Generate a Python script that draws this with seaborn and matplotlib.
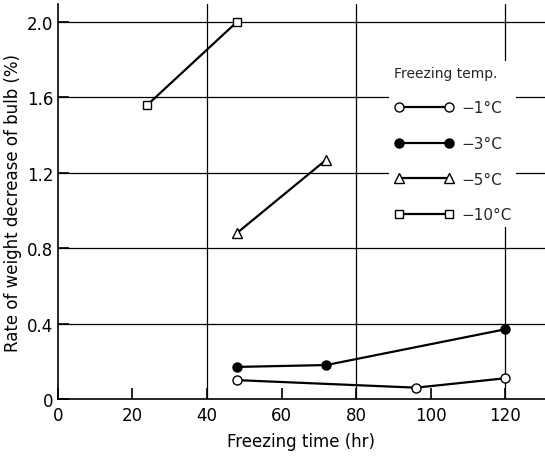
import matplotlib
matplotlib.use("Agg")
import matplotlib.pyplot as plt
import seaborn as sns
import pandas as pd

# Data
t_m1 = [48, 96, 120]
v_m1 = [0.10, 0.06, 0.11]
t_m3 = [48, 72, 120]
v_m3 = [0.17, 0.18, 0.37]
t_m5 = [48, 72]
v_m5 = [0.88, 1.27]
t_m10 = [24, 48]
v_m10 = [1.56, 2.00]
labels = ["\u22121\u00b0C", "\u22123\u00b0C", "\u22125\u00b0C", "\u221210\u00b0C"]
x_ticks = [0, 20, 40, 60, 80, 100, 120]
y_ticks = [0, 0.4, 0.8, 1.2, 1.6, 2.0]
y_ticklabels = ["0", "0.4", "0.8", "1.2", "1.6", "2.0"]

sns.set_theme(style="white")
plt.rcParams["font.family"] = ["DejaVu Sans"]

fig = plt.figure(figsize=(5.45, 4.64), dpi=100)
ax = fig.add_axes([0.106, 0.138, 0.894, 0.851])

# grid
for yv in y_ticks[1:]:
    ax.axhline(yv, color="black", lw=0.9, zorder=1)
for xv in [40, 80, 120]:
    ax.axvline(xv, color="black", lw=0.9, zorder=1)

series = [
    (t_m1, v_m1, labels[0], "o", "white", 6.5),
    (t_m3, v_m3, labels[1], "o", "black", 6.5),
    (t_m5, v_m5, labels[2], "^", "white", 7),
    (t_m10, v_m10, labels[3], "s", "white", 6),
]
for t, v, lab, mk, fc, ms in series:
    df = pd.DataFrame({"t": t, "v": v})
    sns.lineplot(data=df, x="t", y="v", ax=ax, color="black", lw=1.6,
                 marker=mk, markersize=ms, markerfacecolor=fc,
                 markeredgecolor="black", markeredgewidth=1.0,
                 label=lab, zorder=3)

ax.set_xlim(0, 130.6)
ax.set_ylim(0, 2.095)
ax.set_xticks(x_ticks)
ax.set_yticks(y_ticks)
ax.set_yticklabels(y_ticklabels)
ax.tick_params(axis="both", direction="in", length=8, width=1.2,
               labelsize=12, colors="black", pad=3, bottom=True, left=True)
ax.tick_params(axis="x", pad=5)
for s in ["top", "right"]:
    ax.spines[s].set_visible(False)
for s in ["left", "bottom"]:
    ax.spines[s].set_color("black")
    ax.spines[s].set_linewidth(1.2)

ax.set_xlabel("Freezing time (hr)", fontsize=12, color="black", labelpad=6)
ax.set_ylabel("Rate of weight decrease of bulb (%)", fontsize=12, color="black", labelpad=4)

leg = ax.legend(title="Freezing temp.", loc="upper left",
                bbox_to_anchor=(0.665, 0.875), numpoints=2,
                handlelength=3.9, labelspacing=1.35, fontsize=11,
                title_fontsize=10, frameon=True, facecolor="white",
                edgecolor="none", framealpha=1, borderpad=0.3,
                alignment="left", handletextpad=0.5)
leg.set_zorder(5)

fig.savefig("out.png", dpi=100)
